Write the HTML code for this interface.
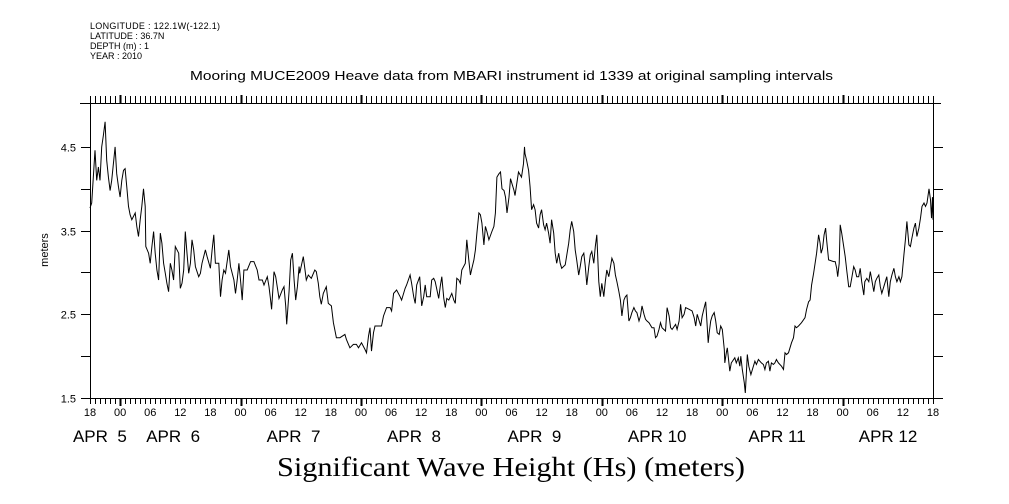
<!DOCTYPE html>
<html><head><meta charset="utf-8"><style>
body{margin:0;background:#fff;}
svg{display:block;}
text{font-family:"Liberation Sans",sans-serif;fill:#000;}
</style></head><body>
<svg id="chart" width="1009" height="504" xmlns="http://www.w3.org/2000/svg">
<g font-size="9">
<text x="90" y="29" textLength="130">LONGITUDE : 122.1W(-122.1)</text>
<text x="90" y="39">LATITUDE : 36.7N</text>
<text x="90" y="49">DEPTH (m) : 1</text>
<text x="90" y="59">YEAR : 2010</text>
</g>
<text x="190" y="80" textLength="643" lengthAdjust="spacingAndGlyphs" font-size="13">Mooring MUCE2009 Heave data from MBARI instrument id 1339 at original sampling intervals</text>
<text x="48" y="250" text-anchor="middle" font-size="11" transform="rotate(-90 48 250)">meters</text>
<text x="277" y="476" textLength="468" lengthAdjust="spacingAndGlyphs" font-size="27" style="font-family:'Liberation Serif',serif">Significant Wave Height (Hs) (meters)</text>
<g id="axes"></g>
<g id="series"></g>
</svg>
<script>
const yTicks=[1.5,2,2.5,3,3.5,4,4.5];
const yTickLabels=["1.5","","2.5","","3.5","","4.5"];
const hourLabels=["18","00","06","12","18","00","06","12","18","00","06","12","18","00","06","12","18","00","06","12","18","00","06","12","18","00","06","12","18"];
const dayLabels=["APR  5","APR  6","APR  7","APR  8","APR  9","APR 10","APR 11","APR 12"];
const dayLabelHours=[-3.4,11.2,35.2,59.2,83.2,107.2,131.2,153.2];
const times=[0,0.33,1,1.33,1.67,2,2.33,2.67,3,3.33,3.67,4,4.33,5,5.33,5.67,6,6.33,6.67,7,7.33,7.67,8,8.33,9,9.33,9.67,10,10.33,10.67,11,11.13,11.67,12,12.33,12.67,13,13.33,13.67,14,14.33,14.67,15,15.33,15.67,16,16.33,16.67,17,17.67,18,18.33,18.67,19,19.33,19.67,20,20.33,20.67,21,21.67,22,22.33,23,23.33,24,24.33,24.67,25,25.67,26,26.33,26.67,27,27.67,28,28.67,29,29.33,29.67,30,30.33,30.67,31.33,32,32.67,33.33,33.67,34.33,34.67,35.33,35.67,36,36.2,36.67,37,37.67,38.33,38.67,39,39.2,39.67,40,40.33,40.67,41,41.33,41.67,
41.8,42.5,43.1,43.5,44.1,44.8,45.1,45.5,45.8,46.1,46.5,47.1,47.5,48.1,48.5,49.1,49.8,50.8,51.1,51.8,52.5,53.1,53.5,54.1,54.8,55.1,55.5,55.8,56.1,56.5,56.8,57.5,58.1,58.5,59.1,59.8,60.1,60.5,61.1,61.8,62.1,62.8,63.1,63.8,64.1,64.5,64.8,65.1,65.7,66.1,66.5,66.8,67.1,67.8,68.1,68.5,68.8,69.5,69.8,70.1,70.5,70.8,71.1,71.5,71.8,72.1,72.5,72.8,73.1,73.5,73.8,74.1,74.8,75.1,75.5,75.8,76.1,76.5,76.8,77.1,77.5,77.8,78.1,78.5,78.8,79.1,79.5,80.1,80.5,80.8,81.1,81.5,81.8,82.1,82.5,82.8,83.1,83.5,83.8,84.5,
84.7,85.4,86.0,86.4,86.6,86.7,87.0,87.4,87.7,88.0,88.4,88.7,89.0,89.4,89.7,90.0,90.4,90.7,91.0,91.4,91.7,92.0,92.4,92.7,93.0,93.4,93.7,94.0,94.7,95.4,95.7,96.0,96.4,96.7,97.0,97.4,97.7,98.0,98.4,98.7,99.0,99.4,99.7,100.0,100.4,100.7,101.0,101.4,101.7,102.0,102.4,102.7,103.0,103.4,104.0,104.4,104.7,105.0,105.4,105.7,106.0,106.4,106.7,107.0,107.4,107.7,108.0,108.4,108.7,109.0,109.4,109.7,110.0,110.4,110.7,111.0,111.4,112.0,112.4,112.7,113.0,113.4,113.7,114.0,114.7,115.0,115.4,115.7,116.0,116.7,117.0,117.4,117.7,118.0,118.4,118.7,119.4,120.0,120.4,120.7,121.0,121.4,121.7,122.0,122.4,122.7,123.0,123.2,123.4,123.7,124.0,124.4,124.7,125.0,125.4,125.7,126.0,126.4,
126.5,126.8,127.0,127.5,127.8,128.5,128.8,129.2,129.5,129.7,130.0,130.2,130.4,130.6,130.8,131.0,131.3,131.7,132.0,132.5,132.8,133.2,133.8,134.2,134.5,134.8,135.2,135.5,135.8,136.2,136.5,136.8,137.2,137.8,138.2,138.5,138.8,139.2,139.5,139.8,140.2,140.5,140.8,141.2,141.8,142.5,142.8,143.2,143.5,143.8,144.2,144.5,144.8,145.2,145.5,145.7,146.0,146.3,146.6,146.8,147.2,148.2,148.5,148.8,149.0,149.3,149.5,149.8,150.2,150.5,150.8,151.2,151.5,151.8,152.2,152.5,152.8,153.2,153.5,153.8,154.2,154.4,154.8,155.2,155.5,155.8,156.2,156.5,156.8,157.2,157.5,157.8,158.2,158.5,158.8,159.2,159.5,159.8,160.2,160.5,160.8,161.2,161.5,161.8,162.2,162.5,162.8,163.2,163.5,163.8,164.2,164.5,164.8,165.2,165.5,165.8,166.2,166.5,166.8,167.2,167.5,167.7,167.9,168.0];
const heights=[3.77,3.83,4.46,4.10,4.26,4.10,4.5,4.64,4.80,4.34,4.14,3.98,4.10,4.5,4.18,4.02,3.90,4.10,4.22,4.24,4.02,3.79,3.69,3.63,3.71,3.55,3.43,3.63,3.79,4.0,3.79,3.31,3.23,3.11,3.31,3.49,3.23,3.03,2.91,3.47,3.35,3.11,2.99,2.87,2.77,3.11,3.03,2.91,3.31,3.23,2.81,2.87,3.03,3.49,3.23,2.99,3.11,3.39,3.27,3.07,2.95,2.99,3.11,3.27,3.19,3.05,3.27,3.45,3.11,3.11,2.71,2.91,3.03,2.99,3.27,3.07,2.91,2.75,2.91,3.11,2.91,2.67,3.03,3.03,3.13,3.13,3.03,2.91,2.91,2.85,2.95,2.83,2.67,2.56,3.01,2.95,2.69,2.79,2.83,2.60,2.38,2.78,3.15,3.23,2.91,2.67,2.83,3.07,
2.99,3.19,2.91,2.97,2.93,3.03,3.01,2.87,2.71,2.62,2.75,2.83,2.63,2.60,2.40,2.22,2.22,2.26,2.20,2.10,2.14,2.14,2.10,2.16,2.08,2.04,2.24,2.34,2.06,2.28,2.36,2.36,2.36,2.48,2.58,2.58,2.54,2.75,2.79,2.71,2.67,2.81,2.85,2.97,2.87,2.71,2.63,2.85,2.95,2.60,2.71,2.85,2.71,2.71,2.91,2.93,2.89,2.69,2.83,2.95,2.69,2.58,2.69,2.67,2.71,2.75,2.67,2.63,2.93,2.91,2.87,3.03,3.11,3.39,3.15,2.97,3.05,3.15,3.27,3.47,3.71,3.69,3.59,3.33,3.55,3.49,3.39,3.49,3.55,3.71,4.14,4.18,4.20,4.00,3.98,3.90,3.71,3.90,4.12,3.98,
3.92,4.20,4.14,4.30,4.50,4.42,4.34,4.22,4.02,3.75,3.81,3.75,3.59,3.53,3.69,3.75,3.57,3.51,3.59,3.47,3.35,3.63,3.47,3.23,3.11,3.23,3.11,3.05,3.09,3.35,3.51,3.61,3.49,3.27,3.15,2.97,3.07,3.19,3.23,3.07,2.85,3.07,3.21,3.25,3.11,3.31,3.45,2.89,2.71,2.87,2.71,2.89,3.03,2.95,3.17,3.11,2.97,2.89,2.77,2.67,2.48,2.67,2.71,2.73,2.42,2.46,2.52,2.58,2.54,2.52,2.42,2.48,2.60,2.50,2.44,2.42,2.40,2.34,2.34,2.22,2.24,2.32,2.40,2.34,2.30,2.58,2.48,2.34,2.32,2.38,2.32,2.42,2.62,2.46,2.50,2.58,2.56,2.54,2.46,2.36,2.50,2.42,2.36,2.48,2.58,2.65,2.36,2.16,2.28,2.42,2.48,2.52,2.42,2.28,2.26,2.36,2.32,2.08,
1.92,2.04,2.10,1.82,1.92,1.98,1.92,1.98,1.88,2.00,1.84,1.76,1.68,1.56,1.78,2.02,1.88,1.78,1.84,1.94,1.90,1.96,1.92,1.90,1.84,1.92,1.94,1.82,1.92,1.90,1.92,1.96,1.92,1.88,1.84,2.04,2.02,2.04,2.10,2.16,2.22,2.36,2.34,2.36,2.40,2.46,2.56,2.65,2.67,2.85,2.99,3.11,3.23,3.45,3.35,3.23,3.29,3.45,3.53,3.39,3.15,3.13,3.13,3.05,2.95,3.11,3.57,3.47,3.31,3.19,3.03,2.83,2.83,2.93,3.07,3.03,2.95,2.95,3.05,2.89,2.73,2.89,2.93,2.89,3.01,2.91,2.77,2.89,2.93,2.97,2.83,2.75,2.83,2.89,2.95,2.71,2.89,2.97,3.05,2.95,2.89,2.95,2.89,2.95,3.21,3.39,3.61,3.33,3.31,3.41,3.53,3.59,3.43,3.53,3.65,3.79,3.83,3.79,3.83,4.00,3.87,3.65,3.90,3.63];

const X0=90,X1=933,Y0=103,Y1=398,TMAX=168,VMIN=1.5,VMAX=5.025;
function xs(t){return X0+t*(X1-X0)/TMAX;}
function ys(v){return Y1-(v-VMIN)*(Y1-Y0)/(VMAX-VMIN);}
const NS="http://www.w3.org/2000/svg";
const axes=document.getElementById('axes');
const series=document.getElementById('series');
function mk(tag,attrs,parent){const e=document.createElementNS(NS,tag);for(const k in attrs)e.setAttribute(k,attrs[k]);parent.appendChild(e);return e;}

let frame=mk('rect',{x:X0+0.5,y:Y0+0.5,width:X1-X0,height:Y1-Y0,fill:'none',stroke:'#000','stroke-width':1},axes);


let topExt=mk('line',{x1:80,y1:Y0+0.5,x2:X1+8,y2:Y0+0.5,stroke:'#000'},axes);



for(let h=0;h<=TMAX;h++){
  const x=Math.round(xs(h))+0.5;
  const day=((h+18)%24===0);
  const w=day?2:1;
  let tb=mk('line',{x1:x,y1:Y1,x2:x,y2:Y1+(day?8:6),stroke:'#000','stroke-width':w},axes);
  
  
  let tt=mk('line',{x1:x,y1:Y0,x2:x,y2:Y0-(day?8:7),stroke:'#000','stroke-width':w},axes);
  
  
}
hourLabels.forEach((lab,i)=>{
  let t=mk('text',{x:xs(i*6),y:Y1+18,'text-anchor':'middle','font-size':11},axes);
  t.textContent=lab;
  
  
});
dayLabels.forEach((lab,i)=>{
  let t=mk('text',{x:xs(dayLabelHours[i]),y:Y1+44,'font-size':17},axes);
  t.setAttribute('style','white-space:pre');
  t.textContent=lab;
  
  
});
yTicks.forEach((v,i)=>{
  const y=Math.round(ys(v))+0.5;
  let l=mk('line',{x1:X0-9,y1:y,x2:X0,y2:y,stroke:'#000'},axes);
  
  
  let r=mk('line',{x1:X1,y1:y,x2:X1+10,y2:y,stroke:'#000'},axes);
  
  
  if(yTickLabels[i]){
    let t=mk('text',{x:X0-14,y:y+4,'text-anchor':'end','font-size':11},axes);
    t.textContent=yTickLabels[i];
    
    
  }
});
const pts=times.map((t,i)=>xs(t).toFixed(1)+','+ys(heights[i]).toFixed(1)).join(' ');
let line=mk('polyline',{points:pts,fill:'none',stroke:'#000','stroke-width':1}, series);


</script>
</body></html>
